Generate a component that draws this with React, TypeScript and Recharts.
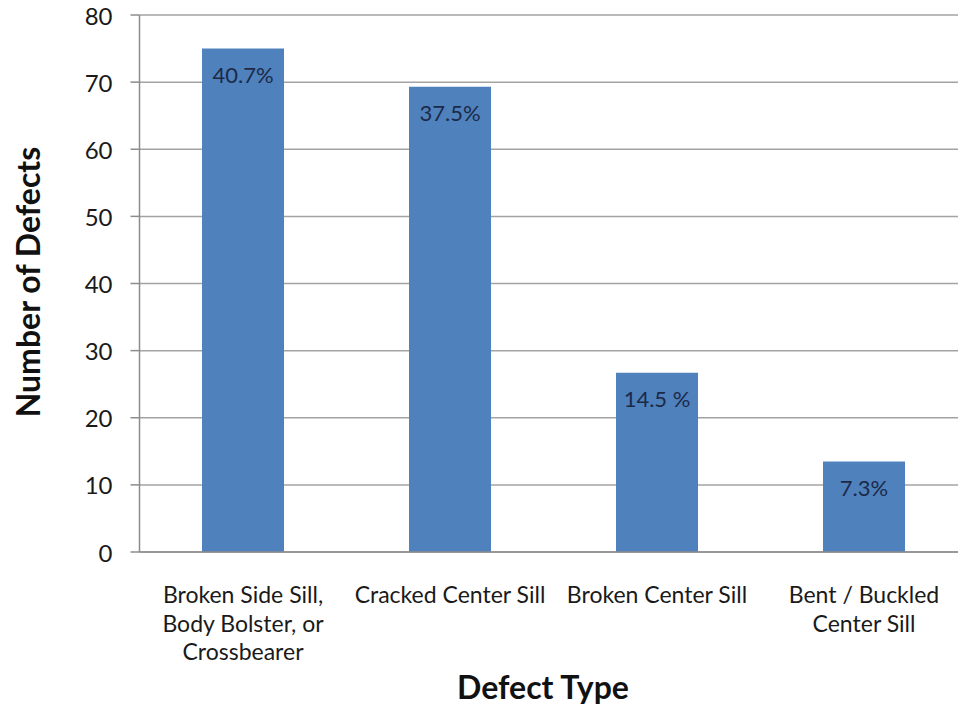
import React from "react";
import { BarChart, Bar, XAxis, YAxis, CartesianGrid, LabelList } from "recharts";

const categories = [
  "Broken Side Sill, Body Bolster, or Crossbearer",
  "Cracked Center Sill",
  "Broken Center Sill",
  "Bent / Buckled Center Sill",
];
const categoryLines = [
  ["Broken Side Sill,", "Body Bolster, or", "Crossbearer"],
  ["Cracked Center Sill"],
  ["Broken Center Sill"],
  ["Bent / Buckled", "Center Sill"],
];
const defectCounts = [75, 69.3, 26.7, 13.5];
const percentLabels = ["40.7%", "37.5%", "14.5 %", "7.3%"];
const yTicks = [0, 10, 20, 30, 40, 50, 60, 70, 80];

const data = categories.map((c, i) => ({
  category: c,
  count: defectCounts[i],
  pct: percentLabels[i],
}));

const FONT = "Lato, 'Open Sans', sans-serif";

const CategoryTick = (props: any) => {
  const { x, y, payload } = props;
  const i = categories.indexOf(payload.value);
  const lines = i >= 0 ? categoryLines[i] : [String(payload.value)];
  return (
    <g>
      {lines.map((l, k) => (
        <text
          key={k}
          x={x}
          y={y + 43 + k * 28.5}
          textAnchor="middle"
          fontFamily={FONT}
          fontSize={23}
          fill="#1a1a1a"
        >
          {l}
        </text>
      ))}
    </g>
  );
};

export default function App() {
  return (
    <div
      style={{
        position: "fixed",
        left: 0,
        top: 0,
        width: 958,
        height: 705,
        overflow: "hidden",
        background: "#ffffff",
      }}
    >
      <BarChart
        width={990}
        height={705}
        data={data}
        margin={{ top: 15, right: 22.5, left: 0, bottom: 0 }}
        barCategoryGap="30.2%"
      >
        <CartesianGrid horizontal vertical={false} stroke="#a3a3a3" strokeWidth={1.5} />
        <XAxis
          dataKey="category"
          height={153}
          tickLine={false}
          axisLine={{ stroke: "#8c8c8c", strokeWidth: 1.5 }}
          interval={0}
          tick={<CategoryTick />}
          label={() => (
            <text
              x={543}
              y={699}
              textAnchor="middle"
              fontFamily={FONT}
              fontWeight="bold"
              fontSize={32}
              fill="#111"
            >
              Defect Type
            </text>
          )}
        />
        <YAxis
          width={139.5}
          domain={[0, 80]}
          ticks={yTicks}
          interval={0}
          tickSize={9}
          tickMargin={18}
          tickLine={{ stroke: "#8c8c8c", strokeWidth: 1.5 }}
          axisLine={{ stroke: "#8c8c8c", strokeWidth: 1.5 }}
          tick={{ fontFamily: FONT, fontSize: 24, fill: "#1a1a1a", dy: 1 }}
          label={() => (
            <text
              x={27.5}
              y={282}
              transform="rotate(-90 27.5 282)"
              textAnchor="middle"
              dominantBaseline="central"
              fontFamily={FONT}
              fontWeight="bold"
              fontSize={32}
              fill="#111"
            >
              Number of Defects
            </text>
          )}
        />
        <Bar dataKey="count" fill="#4f81bd" isAnimationActive={false}>
          <LabelList
            dataKey="pct"
            position="insideTop"
            offset={19}
            fontFamily={FONT}
            fontSize={22}
            fill="#1c2a48"
          />
        </Bar>
      </BarChart>
    </div>
  );
}
